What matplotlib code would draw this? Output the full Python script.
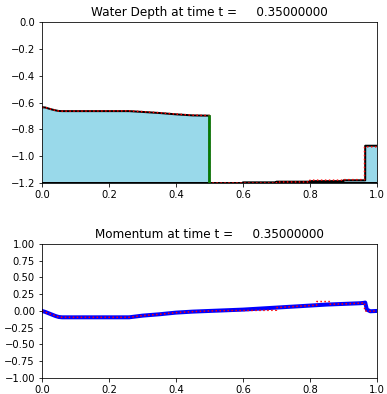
import matplotlib
matplotlib.use("Agg")
import matplotlib.pyplot as plt
import numpy as np

# ---- data ----
t_value = 0.35
x_eta = [0.0, 0.01, 0.02, 0.03, 0.04, 0.05, 0.06, 0.26, 0.30, 0.35, 0.40, 0.45, 0.50,
         0.50, 0.60, 0.60, 0.70, 0.70, 0.80, 0.80, 0.90, 0.90, 0.965, 0.965, 1.0]
eta = [-0.635, -0.637, -0.645, -0.652, -0.658, -0.663, -0.664, -0.664, -0.670, -0.678,
       -0.688, -0.696, -0.698,
       -1.2, -1.2, -1.195, -1.195, -1.19, -1.19, -1.186, -1.186, -1.18, -1.18, -0.922, -0.922]

x_eta_ref = [0.0, 0.01, 0.02, 0.03, 0.04, 0.05, 0.06, 0.26, 0.30, 0.35, 0.40, 0.45, 0.50,
             0.50, 0.70, 0.70, 0.80, 0.80, 0.90, 0.90, 0.963, 0.963, 1.0]
eta_ref = [-0.635, -0.637, -0.645, -0.652, -0.658, -0.663, -0.664, -0.662, -0.668, -0.676,
           -0.686, -0.694, -0.697,
           -1.2, -1.2, -1.192, -1.192, -1.179, -1.179, -1.175, -1.175, -0.93, -0.93]

bed_level = -1.2
wall_x = 0.5

x_mom = [0.0, 0.01, 0.02, 0.03, 0.04, 0.05, 0.06, 0.26, 0.30, 0.35, 0.40, 0.45, 0.50,
         0.55, 0.60, 0.65, 0.70, 0.75, 0.80, 0.85, 0.90, 0.95, 0.96, 0.965, 0.97, 0.98, 1.0]
mom = [0.0, -0.015, -0.035, -0.055, -0.075, -0.09, -0.095, -0.095, -0.07, -0.05, -0.025,
       -0.01, 0.0, 0.01, 0.02, 0.035, 0.05, 0.065, 0.08, 0.095, 0.105, 0.115, 0.12, 0.125,
       0.02, -0.005, 0.0]

x_mom_ref = [0.0, 0.05, 0.06, 0.26, 0.30, 0.35, 0.40, 0.45, 0.50, 0.55, 0.55, 0.70, 0.70,
             0.75, 0.80, 0.82, 0.82, 0.86, 0.86, 0.90, 0.95, 0.963, 0.963, 0.98, 1.0]
mom_ref = [0.0, -0.09, -0.095, -0.095, -0.07, -0.05, -0.025, -0.01, 0.0, 0.005, 0.005,
           0.01, 0.05, 0.065, 0.08, 0.085, 0.14, 0.14, 0.1, 0.105, 0.115, 0.12, 0.0, -0.005, 0.0]

water_color = "#99d9ea"

fig = plt.figure(figsize=(387 / 72, 394 / 72), dpi=72)
ax1 = fig.add_axes([0.1085, 0.5355, 0.8655, 0.4085])
ax2 = fig.add_axes([0.1085, 0.0406, 0.8655, 0.3404])

# Water depth
ax1.fill_between(x_eta, eta, bed_level, color=water_color, lw=0)
ax1.plot([0, 1], [bed_level, bed_level], color="k", lw=3)
ax1.plot(x_eta, eta, color="k", lw=2)
ax1.plot(x_eta_ref, eta_ref, color="r", lw=1.5, ls=":")
ax1.plot([wall_x, wall_x], [bed_level, eta[12]], color="green", lw=2.5)
ax1.set_xlim(0, 1)
ax1.set_ylim(-1.2, 0)
ax1.set_yticks([0.0, -0.2, -0.4, -0.6, -0.8, -1.0, -1.2])
ax1.set_xticks([0.0, 0.2, 0.4, 0.6, 0.8, 1.0])
ax1.set_title("Water Depth at time t =     %.8f" % t_value)

# Momentum
ax2.plot(x_mom, mom, color="b", lw=4)
ax2.plot(x_mom_ref, mom_ref, color="r", lw=1.5, ls=":")
ax2.set_xlim(0, 1)
ax2.set_ylim(-1, 1)
ax2.set_yticks([1.0, 0.75, 0.5, 0.25, 0.0, -0.25, -0.5, -0.75, -1.0])
ax2.set_xticks([0.0, 0.2, 0.4, 0.6, 0.8, 1.0])
ax2.set_title("Momentum at time t =     %.8f" % t_value)

fig.savefig("out.png", dpi=72)
